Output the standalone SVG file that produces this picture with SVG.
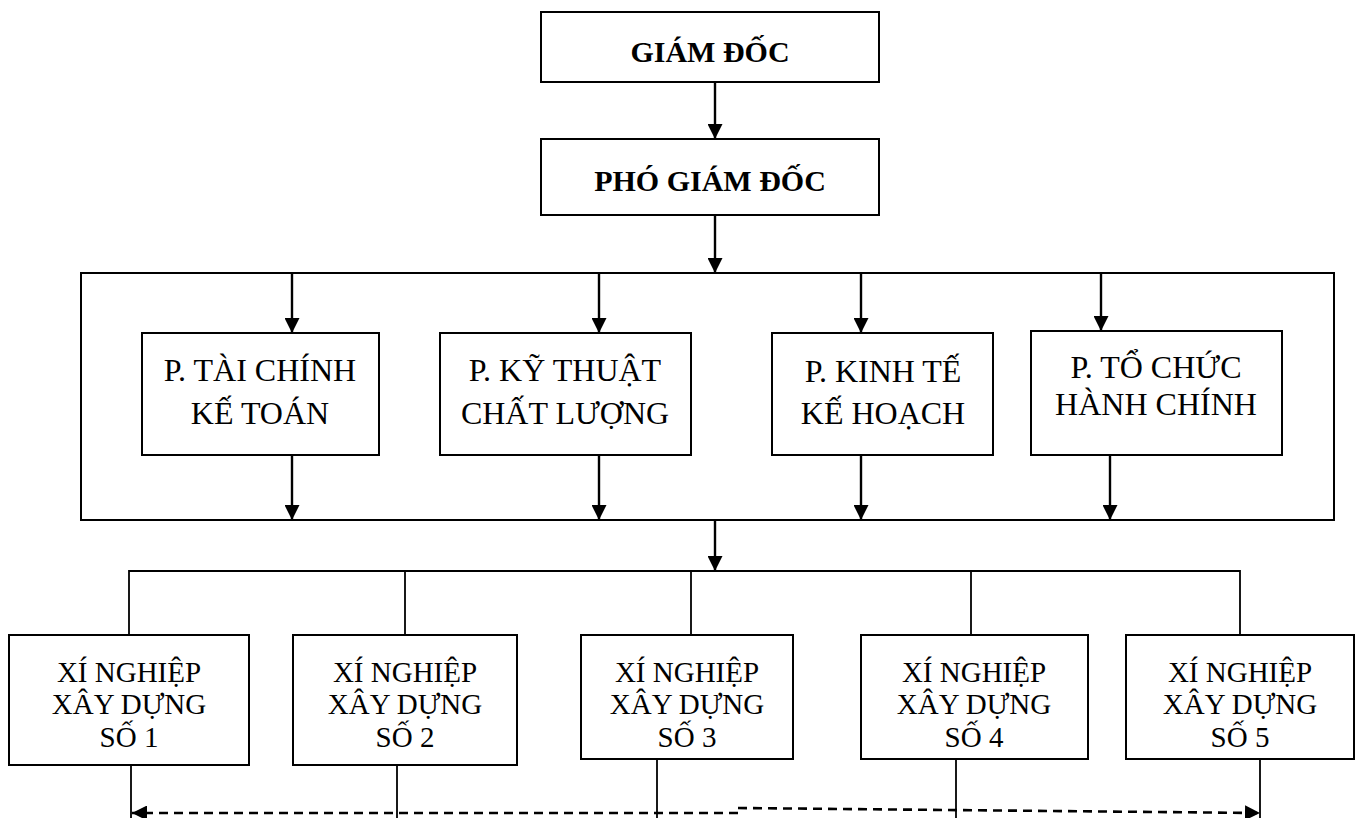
<svg xmlns="http://www.w3.org/2000/svg" width="1356" height="818" viewBox="0 0 1356 818">
<style>
.box{fill:#fff;stroke:#000;stroke-width:2}
.t{font-family:"Liberation Serif","Times New Roman",serif;fill:#000;text-anchor:middle}
.b{font-weight:bold;font-size:30px}
.d{font-size:32px}
.x{font-size:29px}
.ln{stroke:#000;stroke-width:2.4;fill:none}
.thin{stroke:#000;stroke-width:1.8;fill:none}
.dash{stroke:#000;stroke-width:2.6;fill:none;stroke-dasharray:9 6}
</style>
<defs>
<marker id="arr" markerUnits="userSpaceOnUse" markerWidth="15" markerHeight="15" refX="15" refY="7.5" orient="auto">
<path d="M0,0 L15,7.5 L0,15 z" fill="#000"/>
</marker>
</defs>
<rect id="container" x="81" y="273" width="1253" height="247" fill="none" stroke="#000" stroke-width="2"/>
<g id="connectors">
<line class="ln" x1="715" y1="82" x2="715" y2="139" marker-end="url(#arr)"/>
<line class="ln" x1="715" y1="215" x2="715" y2="273" marker-end="url(#arr)"/>
<line class="ln" x1="292" y1="273" x2="292" y2="333" marker-end="url(#arr)"/>
<line class="ln" x1="599" y1="273" x2="599" y2="333" marker-end="url(#arr)"/>
<line class="ln" x1="861" y1="273" x2="861" y2="333" marker-end="url(#arr)"/>
<line class="ln" x1="1101" y1="273" x2="1101" y2="331" marker-end="url(#arr)"/>
<line class="ln" x1="292" y1="455" x2="292" y2="520" marker-end="url(#arr)"/>
<line class="ln" x1="599" y1="455" x2="599" y2="520" marker-end="url(#arr)"/>
<line class="ln" x1="861" y1="455" x2="861" y2="520" marker-end="url(#arr)"/>
<line class="ln" x1="1110" y1="455" x2="1110" y2="520" marker-end="url(#arr)"/>
<line class="ln" x1="715" y1="520" x2="715" y2="571" marker-end="url(#arr)"/>
<polyline class="thin" points="129,635 129,571 1240,571 1240,635"/>
<line class="thin" x1="405" y1="571" x2="405" y2="635"/>
<line class="thin" x1="691" y1="571" x2="691" y2="635"/>
<line class="thin" x1="971" y1="571" x2="971" y2="635"/>
<line class="thin" x1="131" y1="765" x2="131" y2="818"/>
<line class="thin" x1="397" y1="765" x2="397" y2="818"/>
<line class="thin" x1="657" y1="759" x2="657" y2="818"/>
<line class="thin" x1="956" y1="759" x2="956" y2="818"/>
<line class="thin" x1="1260" y1="759" x2="1260" y2="818"/>
<line class="dash" x1="738" y1="813" x2="132" y2="813" marker-end="url(#arr)"/>
<line class="dash" x1="738" y1="808" x2="1260" y2="813" marker-end="url(#arr)"/>
</g>
<g id="giam-doc">
<rect class="box" x="541" y="12" width="338" height="70"/>
<text class="t b" x="710" y="62">GIÁM ĐỐC</text>
</g>
<g id="pho-giam-doc">
<rect class="box" x="541" y="139" width="338" height="76"/>
<text class="t b" x="710" y="191">PHÓ GIÁM ĐỐC</text>
</g>
<g id="p-tai-chinh">
<rect class="box" x="142" y="333" width="237" height="122"/>
<text class="t d" x="260" y="381">P. TÀI CHÍNH</text>
<text class="t d" x="260" y="424">KẾ TOÁN</text>
</g>
<g id="p-ky-thuat">
<rect class="box" x="440" y="333" width="251" height="122"/>
<text class="t d" x="565" y="381">P. KỸ THUẬT</text>
<text class="t d" x="565" y="424">CHẤT LƯỢNG</text>
</g>
<g id="p-kinh-te">
<rect class="box" x="772" y="333" width="221" height="122"/>
<text class="t d" x="883" y="382">P. KINH TẾ</text>
<text class="t d" x="883" y="424">KẾ HOẠCH</text>
</g>
<g id="p-to-chuc">
<rect class="box" x="1031" y="331" width="251" height="124"/>
<text class="t d" x="1156" y="378">P. TỔ CHỨC</text>
<text class="t d" x="1156" y="415">HÀNH CHÍNH</text>
</g>
<g id="xn1">
<rect class="box" x="9" y="635" width="240" height="130"/>
<text class="t x" x="129" y="682">XÍ NGHIỆP</text>
<text class="t x" x="129" y="714">XÂY DỰNG</text>
<text class="t x" x="129" y="747">SỐ 1</text>
</g>
<g id="xn2">
<rect class="box" x="293" y="635" width="224" height="130"/>
<text class="t x" x="405" y="682">XÍ NGHIỆP</text>
<text class="t x" x="405" y="714">XÂY DỰNG</text>
<text class="t x" x="405" y="747">SỐ 2</text>
</g>
<g id="xn3">
<rect class="box" x="581" y="635" width="212" height="124"/>
<text class="t x" x="687" y="682">XÍ NGHIỆP</text>
<text class="t x" x="687" y="714">XÂY DỰNG</text>
<text class="t x" x="687" y="747">SỐ 3</text>
</g>
<g id="xn4">
<rect class="box" x="861" y="635" width="227" height="124"/>
<text class="t x" x="974" y="682">XÍ NGHIỆP</text>
<text class="t x" x="974" y="714">XÂY DỰNG</text>
<text class="t x" x="974" y="747">SỐ 4</text>
</g>
<g id="xn5">
<rect class="box" x="1126" y="635" width="228" height="124"/>
<text class="t x" x="1240" y="682">XÍ NGHIỆP</text>
<text class="t x" x="1240" y="714">XÂY DỰNG</text>
<text class="t x" x="1240" y="747">SỐ 5</text>
</g>
</svg>
